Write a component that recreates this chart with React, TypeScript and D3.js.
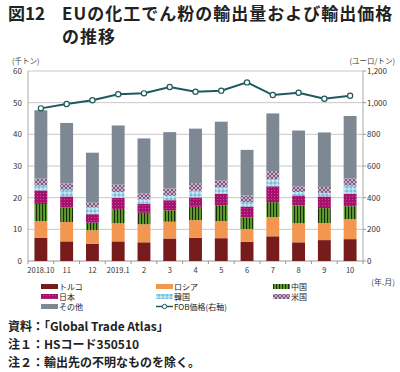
import React from "react";
import * as d3 from "d3";

const categories = ["2018.10", "11", "12", "2019.1", "2", "3", "4", "5", "6", "7", "8", "9", "10"];
const turkey = [7.3, 6.2, 5.4, 6.2, 5.9, 7.1, 7.3, 7.2, 6.1, 7.8, 5.9, 6.6, 6.9];
const russia = [5.3, 6.1, 4.3, 5.7, 5.7, 5.3, 5.6, 5.4, 4.0, 6.1, 6.0, 5.4, 6.3];
const china = [5.4, 4.6, 2.4, 4.5, 3.6, 3.6, 4.2, 5.0, 3.7, 4.7, 5.6, 4.7, 4.1];
const japan = [4.3, 3.5, 2.7, 3.6, 2.9, 3.2, 3.0, 3.7, 3.4, 5.0, 3.2, 3.7, 4.0];
const korea = [1.5, 2.1, 2.1, 1.8, 1.3, 1.4, 2.1, 2.0, 1.4, 2.3, 1.1, 1.1, 2.5];
const usa = [2.2, 2.0, 1.5, 2.3, 1.9, 2.3, 2.4, 2.2, 2.1, 2.5, 1.8, 1.9, 2.3];
const other = [21.6, 19.1, 15.8, 18.7, 17.4, 17.8, 17.2, 18.5, 14.4, 18.2, 17.6, 17.2, 19.7];
const fobPrice = [964, 992, 1015, 1053, 1059, 1099, 1069, 1076, 1128, 1048, 1063, 1025, 1044];
const leftTicks = [0, 10, 20, 30, 40, 50, 60];
const rightTicks = [0, 200, 400, 600, 800, 1000, 1200];

const seriesDefs = [
  { key: "turkey", name: "トルコ", values: turkey, fill: "#761c1c" },
  { key: "russia", name: "ロシア", values: russia, fill: "#f29650" },
  { key: "china", name: "中国", values: china, fill: "url(#pChina)" },
  { key: "japan", name: "日本", values: japan, fill: "url(#pJapan)" },
  { key: "korea", name: "韓国", values: korea, fill: "url(#pKorea)" },
  { key: "usa", name: "米国", values: usa, fill: "url(#pUsa)" },
  { key: "other", name: "その他", values: other, fill: "#7e8892" },
];

const font = "'Noto Sans CJK JP', 'Noto Sans', sans-serif";

export default function App() {
  const W = 400, H = 372;
  const x0 = 28, x1 = 363, yTop = 71, yBot = 261;
  const x = d3.scaleBand<string>().domain(categories).range([x0, x1]).paddingInner(0.5).paddingOuter(0.25);
  const y = d3.scaleLinear().domain([0, 60]).range([yBot, yTop]);
  const yR = d3.scaleLinear().domain([0, 1200]).range([yBot, yTop]);

  const rows = categories.map((c, i) => {
    const r: any = { cat: c };
    seriesDefs.forEach((s) => (r[s.key] = s.values[i]));
    return r;
  });
  const stacked = d3.stack<any>().keys(seriesDefs.map((s) => s.key))(rows);

  const line = d3
    .line<number>()
    .x((_, i) => (x(categories[i]) as number) + x.bandwidth() / 2)
    .y((d) => yR(d));

  const step = x.step();
  const tickXs = d3.range(categories.length + 1).map((i) => x0 + i * step);

  const legend = [
    { col: 0, row: 0, s: seriesDefs[0] },
    { col: 1, row: 0, s: seriesDefs[1] },
    { col: 2, row: 0, s: seriesDefs[2] },
    { col: 0, row: 1, s: seriesDefs[3] },
    { col: 1, row: 1, s: seriesDefs[4] },
    { col: 2, row: 1, s: seriesDefs[5] },
    { col: 0, row: 2, s: seriesDefs[6] },
  ];
  const colX = [41, 156, 273];
  const rowY = [290, 300, 310];

  return (
    <svg width={W} height={H} style={{ position: "absolute", left: 0, top: 0, background: "#fff" }} fontFamily={font}>
      <defs>
        <pattern id="pChina" patternUnits="userSpaceOnUse" width="3" height="4">
          <rect width="3" height="4" fill="#5f9e2c" />
          <rect x="0" width="1.1" height="4" fill="#1d2a10" />
        </pattern>
        <pattern id="pJapan" patternUnits="userSpaceOnUse" width="3" height="3">
          <rect width="3" height="3" fill="#a3136e" />
          <rect x="1" y="1" width="1" height="1" fill="#c65096" />
        </pattern>
        <pattern id="pKorea" patternUnits="userSpaceOnUse" width="4" height="4">
          <rect width="4" height="4" fill="#9fd6ea" />
          <circle cx="1" cy="1" r="0.8" fill="#ffffff" />
          <circle cx="3" cy="3" r="0.8" fill="#5a9cb8" />
        </pattern>
        <pattern id="pUsa" patternUnits="userSpaceOnUse" width="4" height="4">
          <rect width="4" height="4" fill="#7d5a80" />
          <path d="M0,4 L4,0 M0,0 L4,4" stroke="#e8d8ea" strokeWidth="0.7" />
        </pattern>
      </defs>

      <text x={8} y={20} fontSize={17} fontWeight="bold" fill="#222">図12</text>
      <text x={62} y={20} fontSize={17} fontWeight="bold" fill="#222" letterSpacing={1}>EUの化工でん粉の輸出量および輸出価格</text>
      <text x={62} y={43} fontSize={17} fontWeight="bold" fill="#222" letterSpacing={1}>の推移</text>

      <text x={12} y={64} fontSize={7.5} fill="#444">(千トン)</text>
      <text x={395} y={64} fontSize={7.5} fill="#444" textAnchor="end">(ユーロ/トン)</text>

      {leftTicks.map((t) => (
        <line key={"g" + t} x1={x0} x2={x1} y1={y(t)} y2={y(t)} stroke={t === 0 ? "#999" : "#c8c8c8"} strokeWidth={1} />
      ))}
      <line x1={x0} x2={x0} y1={yTop} y2={yBot} stroke="#aaa" />
      <line x1={x1} x2={x1} y1={yTop} y2={yBot} stroke="#aaa" />
      {leftTicks.map((t) => (
        <text key={"l" + t} x={22} y={y(t) + 3} fontSize={8} fill="#333" textAnchor="end">{t}</text>
      ))}
      {rightTicks.map((t) => (
        <g key={"r" + t}>
          <line x1={x1} x2={x1 + 3} y1={yR(t)} y2={yR(t)} stroke="#999" />
          <text x={367} y={yR(t) + 3} fontSize={8} fill="#333">{d3.format(",")(t)}</text>
        </g>
      ))}
      {tickXs.map((tx, i) => (
        <line key={"t" + i} x1={tx} x2={tx} y1={yBot} y2={yBot + 3} stroke="#999" />
      ))}
      {categories.map((c) => (
        <text key={"c" + c} x={(x(c) as number) + x.bandwidth() / 2} y={273} fontSize={7.5} fill="#333" textAnchor="middle">{c}</text>
      ))}
      <text x={395} y={285} fontSize={8} fill="#444" textAnchor="end">(年.月)</text>

      {stacked.map((layer, li) => (
        <g key={layer.key}>
          {layer.map((d, i) => (
            <rect
              key={i}
              x={x(categories[i])}
              y={y(d[1])}
              width={x.bandwidth()}
              height={y(d[0]) - y(d[1])}
              fill={seriesDefs[li].fill}
            />
          ))}
        </g>
      ))}

      <path d={line(fobPrice) || ""} fill="none" stroke="#1d5a5e" strokeWidth={2} />
      {fobPrice.map((p, i) => (
        <circle key={"p" + i} cx={(x(categories[i]) as number) + x.bandwidth() / 2} cy={yR(p)} r={2.6} fill="#fff" stroke="#1d5a5e" strokeWidth={1.2} />
      ))}

      {legend.map((l) => (
        <g key={l.s.key}>
          <rect x={colX[l.col]} y={rowY[l.row] - 6} width={17} height={5} fill={l.s.fill} />
          <text x={colX[l.col] + 18} y={rowY[l.row]} fontSize={8} fill="#222">{l.s.name}</text>
        </g>
      ))}
      <g>
        <line x1={colX[1]} x2={colX[1] + 17} y1={rowY[2] - 3.5} y2={rowY[2] - 3.5} stroke="#1d5a5e" strokeWidth={1.5} />
        <circle cx={colX[1] + 8.5} cy={rowY[2] - 3.5} r={2.2} fill="#fff" stroke="#1d5a5e" strokeWidth={1} />
        <text x={colX[1] + 18} y={rowY[2]} fontSize={8} fill="#222">FOB価格(右軸)</text>
      </g>

      <text x={8} y={331} fontSize={12} fontWeight="bold" fill="#222">資料：「Global Trade Atlas」</text>
      <text x={8} y={349} fontSize={12} fontWeight="bold" fill="#222">注１：HSコード350510</text>
      <text x={8} y={367} fontSize={12} fontWeight="bold" fill="#222">注２：輸出先の不明なものを除く。</text>
    </svg>
  );
}
